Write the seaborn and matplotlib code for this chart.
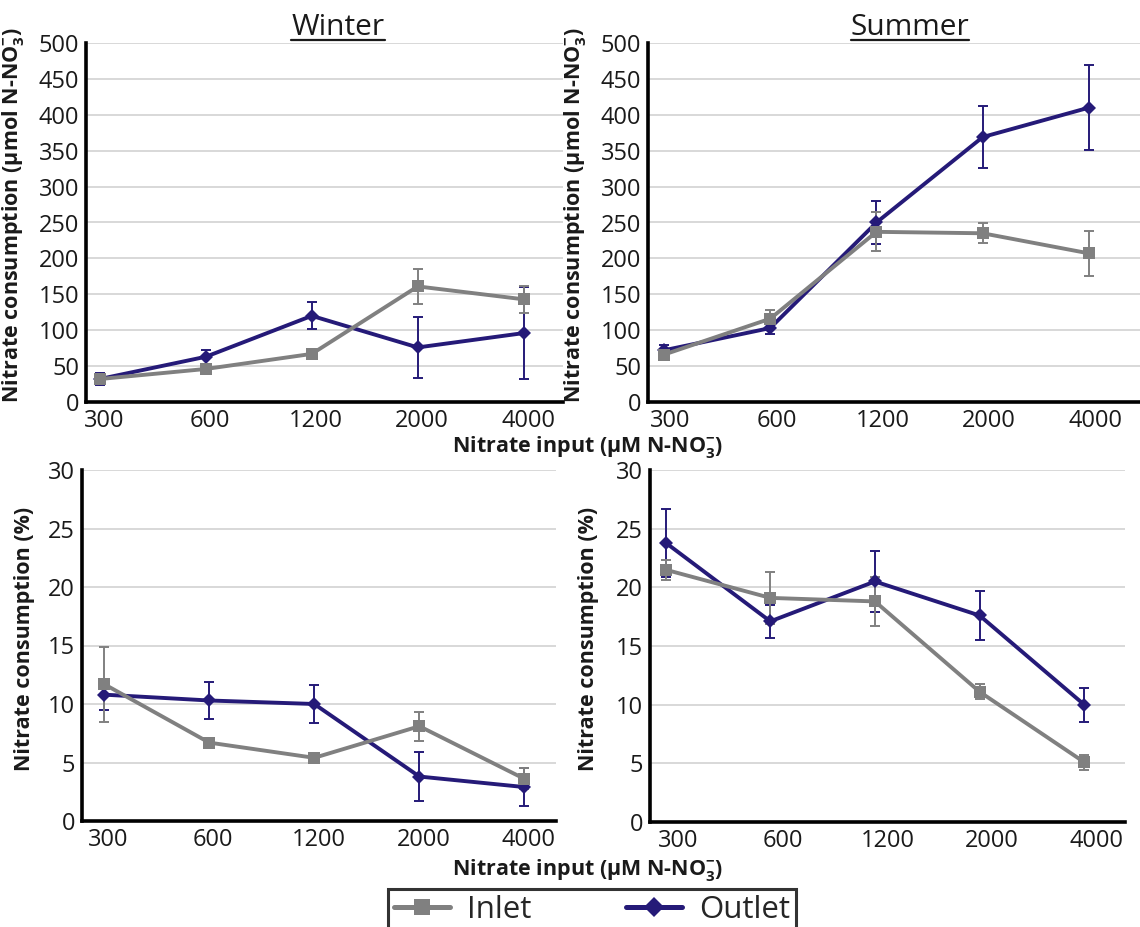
import seaborn as sns
import matplotlib.pyplot as plt
import pandas as pd
from matplotlib.lines import Line2D

# nitrate input levels (categories)
inputs = ["300", "600", "1200", "2000", "4000"]

# Winter - consumption in umol N-NO3-
w_in_umol = [32, 46, 67, 161, 143]
w_in_umol_err = [5, 3, 3, 24, 19]
w_out_umol = [32, 63, 120, 76, 96]
w_out_umol_err = [8, 10, 19, 42, 64]

# Summer - consumption in umol N-NO3-
s_in_umol = [66, 116, 237, 235, 207]
s_in_umol_err = [5, 12, 27, 14, 31]
s_out_umol = [72, 103, 250, 369, 410]
s_out_umol_err = [8, 8, 30, 43, 59]

# Winter - consumption in %
w_in_pct = [11.7, 6.7, 5.4, 8.1, 3.6]
w_in_pct_err = [3.2, 0.2, 0.3, 1.25, 0.9]
w_out_pct = [10.8, 10.3, 10.0, 3.8, 2.9]
w_out_pct_err = [1.3, 1.6, 1.6, 2.1, 1.6]

# Summer - consumption in %
s_in_pct = [21.5, 19.1, 18.8, 11.1, 5.1]
s_in_pct_err = [0.85, 2.2, 2.1, 0.65, 0.65]
s_out_pct = [23.8, 17.1, 20.5, 17.6, 10.0]
s_out_pct_err = [2.9, 1.4, 2.6, 2.05, 1.45]

gray = "#808080"
navy = "#251a78"

sns.set_theme(style="white")
plt.rcParams["font.family"] = ["Open Sans", "DejaVu Sans"]
plt.rcParams["mathtext.default"] = "regular"

W, H = 1140, 927
fig = plt.figure(figsize=(W / 100, H / 100), dpi=100)


def add_ax(x0, y0, x1, y1):
    # pixel box (top-left origin) -> figure coords
    return fig.add_axes([x0 / W, 1 - y1 / H, (x1 - x0) / W, (y1 - y0) / H])


def panel(ax, inlet, inlet_err, outlet, outlet_err, ymax, ystep, xlim, shift,
          ylabel, ylab_x, tick_pad):
    pos = list(range(len(inputs)))
    # outlet first so inlet sits on top
    for vals, errs, col, mk, ms in [(outlet, outlet_err, navy, "D", 7.5),
                                    (inlet, inlet_err, gray, "s", 9)]:
        ax.errorbar(pos, vals, yerr=errs, fmt="none", ecolor=col, elinewidth=1.4,
                    capsize=3.5, capthick=1.4, zorder=2)
        df = pd.DataFrame({"pos": pos, "value": vals})
        sns.lineplot(data=df, x="pos", y="value", color=col, marker=mk,
                     markersize=ms, markeredgewidth=0, linewidth=2.8, ax=ax,
                     zorder=3)

    ax.set_xlim(*xlim)
    ax.set_ylim(0, ymax)
    ax.set_yticks(range(0, ymax + 1, ystep))
    ax.yaxis.grid(True, color="#d2d2d2", linewidth=1.2)
    ax.set_axisbelow(True)

    ax.set_xticks([0.55, 1.55, 2.55, 3.55, xlim[1]])
    ax.set_xticklabels([])
    ax.set_xticks([p + shift for p in pos], minor=True)
    ax.set_xticklabels(inputs, minor=True)
    ax.tick_params(axis="x", which="major", direction="out", length=5,
                   width=2.6, color="black")
    ax.tick_params(axis="x", which="minor", length=0, pad=tick_pad,
                   labelsize=17, colors="#1a1a1a")
    ax.tick_params(axis="y", direction="out", length=4, width=2.2,
                   color="black", pad=1, labelsize=17, colors="#1a1a1a")

    for s in ["top", "right"]:
        ax.spines[s].set_visible(False)
    for s in ["left", "bottom"]:
        ax.spines[s].set_linewidth(2.6)
        ax.spines[s].set_color("black")

    ax.set_xlabel("")
    ax.set_ylabel(ylabel, fontsize=15.5, fontweight="bold", color="#1a1a1a")
    ax.yaxis.set_label_coords(ylab_x, 0.52)


ylab_umol = "Nitrate consumption (μmol N-NO$_3^{-}$)"
ylab_pct = "Nitrate consumption (%)"

ax1 = add_ax(86, 43, 563, 402)
panel(ax1, w_in_umol, w_in_umol_err, w_out_umol, w_out_umol_err, 500, 50,
      (-0.13, 4.37), 0.04, ylab_umol, -0.125, 5)

ax2 = add_ax(648, 43, 1140, 402)
panel(ax2, s_in_umol, s_in_umol_err, s_out_umol, s_out_umol_err, 500, 50,
      (-0.15, 4.48), 0.06, ylab_umol, -0.122, 5)

ax3 = add_ax(82, 470, 556, 821)
panel(ax3, w_in_pct, w_in_pct_err, w_out_pct, w_out_pct_err, 30, 5,
      (-0.21, 4.3), 0.04, ylab_pct, -0.1, 5)

ax4 = add_ax(650, 470, 1125, 822)
panel(ax4, s_in_pct, s_in_pct_err, s_out_pct, s_out_pct_err, 30, 5,
      (-0.15, 4.39), 0.12, ylab_pct, -0.108, 5)

# shared x labels
xlab = "Nitrate input (μM N-NO$_3^{-}$)"
fig.text(588 / W, 1 - 447 / H, xlab, ha="center", va="center", fontsize=15.5,
         fontweight="bold", color="#1a1a1a")
fig.text(588 / W, 1 - 870 / H, xlab, ha="center", va="center", fontsize=15.5,
         fontweight="bold", color="#1a1a1a")

# underlined season titles
titles = []
for name, xc in [("Winter", 338), ("Summer", 910)]:
    t = fig.text(xc / W, 1 - 35 / H, name, ha="center", va="baseline",
                 fontsize=21.5, color="#1a1a1a")
    titles.append(t)

fig.canvas.draw()
renderer = fig.canvas.get_renderer()
for t in titles:
    bb = t.get_window_extent(renderer)
    yl = 1 - 39.5 / H
    fig.add_artist(Line2D([bb.x0 / W, bb.x1 / W], [yl, yl], color="#1a1a1a",
                          linewidth=1.6, transform=fig.transFigure))

# legend
handles = [Line2D([], [], color=gray, marker="s", markersize=11, linewidth=3.6,
                  markeredgewidth=0),
           Line2D([], [], color=navy, marker="D", markersize=10, linewidth=3.6,
                  markeredgewidth=0)]
leg = fig.legend(handles, ["Inlet", "Outlet"], loc="upper center",
                 bbox_to_anchor=(592 / W, 1 - 889 / H), ncol=2, fontsize=22.5,
                 frameon=True, fancybox=False, edgecolor="black",
                 handlelength=1.8, handletextpad=0.55, columnspacing=3.0,
                 borderaxespad=0, borderpad=0.2)
leg.get_frame().set_linewidth(2.2)

fig.savefig("out.png", dpi=100)
